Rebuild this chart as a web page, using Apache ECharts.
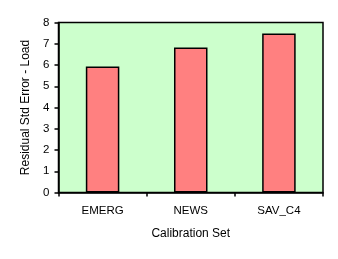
<!DOCTYPE html>
<html><head><meta charset="utf-8">
<script src="https://cdn.jsdelivr.net/npm/echarts@6/dist/echarts.min.js"></script>
<style>html,body{margin:0;padding:0;background:#fff}#c{width:338px;height:259px}</style>
</head><body><div id="c"></div>
<script>
const categories = ['EMERG', 'NEWS', 'SAV_C4'];
const values = [5.93, 6.82, 7.48];
const yTicks = [0, 1, 2, 3, 4, 5, 6, 7, 8];

const chart = echarts.init(document.getElementById('c'), null, {renderer: 'canvas'});
const font = 'Liberation Sans, Arial, sans-serif';
chart.setOption({
  animation: false,
  backgroundColor: '#ffffff',
  grid: {left: 58.5, top: 22.5, right: 15, bottom: 66.5, show: true, backgroundColor: '#CCFFCC', borderColor: '#000', borderWidth: 1.5},
  xAxis: {
    type: 'category', data: categories,
    name: 'Calibration Set', nameLocation: 'middle', nameGap: 35,
    nameTextStyle: {fontFamily: font, fontSize: 12, color: '#000'},
    axisLine: {lineStyle: {color: '#000', width: 1.5}},
    axisTick: {show: true, length: 4, lineStyle: {color: '#000', width: 1.5}},
    axisLabel: {fontFamily: font, fontSize: 11.5, color: '#000', margin: 12}
  },
  yAxis: {
    type: 'value', min: yTicks[0], max: yTicks[yTicks.length - 1], interval: 1,
    name: 'Residual Std Error - Load', nameLocation: 'middle', nameGap: 27,
    nameTextStyle: {fontFamily: font, fontSize: 12, color: '#000'},
    axisLine: {show: true, lineStyle: {color: '#000', width: 1.5}},
    axisTick: {show: true, length: 4, lineStyle: {color: '#000', width: 1.5}},
    axisLabel: {fontFamily: font, fontSize: 11.5, color: '#000', margin: 9},
    splitLine: {show: false}
  },
  series: [{
    type: 'bar', data: values, barWidth: '38%',
    itemStyle: {color: '#FF8080', borderColor: '#000', borderWidth: 1.5}
  }]
});
</script></body></html>
